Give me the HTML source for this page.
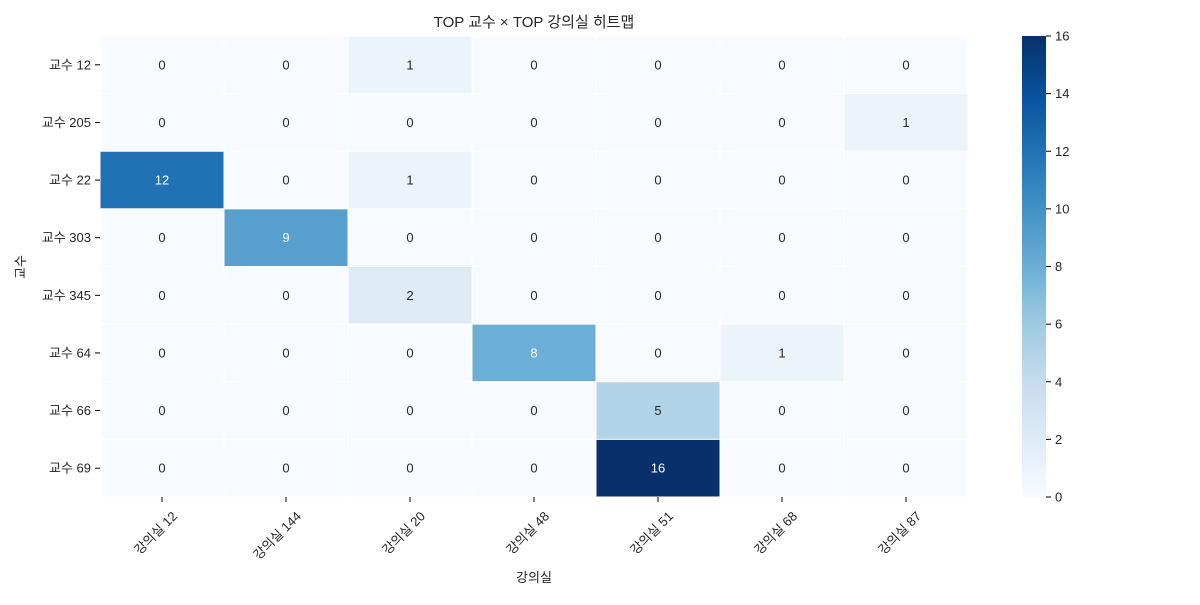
<!DOCTYPE html>
<html><head><meta charset="utf-8">
<style>
body{margin:0;background:#fff;}
svg text{font-family:"Liberation Sans","Noto Sans CJK KR",sans-serif;fill:#262626;}
</style></head>
<body>
<svg id="chart" width="1200" height="600" xmlns="http://www.w3.org/2000/svg">
<text x="534" y="27" font-size="15" text-anchor="middle" fill="#000">TOP 교수 × TOP 강의실 히트맵</text>
<g id="cells"></g>
<g id="xaxis"></g>
<g id="yaxis"></g>
<text x="534" y="582" font-size="13" text-anchor="middle">강의실</text>
<text transform="translate(25,267) rotate(-90)" font-size="13" text-anchor="middle">교수</text>
<defs><linearGradient id="cbg" x1="0" y1="1" x2="0" y2="0"></linearGradient></defs>
<rect x="1022" y="36" width="24" height="461" fill="url(#cbg)"/>
<g id="cbaxis"></g>
</svg>
<script>
const rowLabels=["교수 12","교수 205","교수 22","교수 303","교수 345","교수 64","교수 66","교수 69"];
const colLabels=["강의실 12","강의실 144","강의실 20","강의실 48","강의실 51","강의실 68","강의실 87"];
const values=[
[0,0,1,0,0,0,0],
[0,0,0,0,0,0,1],
[12,0,1,0,0,0,0],
[0,9,0,0,0,0,0],
[0,0,2,0,0,0,0],
[0,0,0,8,0,1,0],
[0,0,0,0,5,0,0],
[0,0,0,0,16,0,0]];
const cbTicks=[0,2,4,6,8,10,12,14,16];
const vmin=0,vmax=16;
const X0=100,X1=968,Y0=36,Y1=497;
const cw=(X1-X0)/colLabels.length, ch=(Y1-Y0)/rowLabels.length;
const xPos=i=>X0+i*cw, yPos=j=>Y0+j*ch;
const stops=["#f7fbff","#deebf7","#c6dbef","#9ecae1","#6baed6","#4292c6","#2171b5","#08519c","#08306b"];
function hex(h){return [1,3,5].map(i=>parseInt(h.substr(i,2),16));}
function color(v){let t=Math.max(0,Math.min(1,(v-vmin)/(vmax-vmin)))*(stops.length-1);let i=Math.min(Math.floor(t),stops.length-2),f=t-i;let a=hex(stops[i]),b=hex(stops[i+1]);return "rgb("+a.map((c,k)=>Math.round(c+(b[k]-c)*f)).join(",")+")";}
const NS="http://www.w3.org/2000/svg";
function mk(tag,attrs,parent){const e=document.createElementNS(NS,tag);for(const k in attrs)e.setAttribute(k,attrs[k]);parent.appendChild(e);return e;}
const cells=document.getElementById('cells');
values.forEach((row,j)=>row.forEach((v,i)=>{
 const r=mk('rect',{x:xPos(i),y:yPos(j),width:cw,height:ch,fill:color(v),stroke:"#fff","stroke-width":1},cells);
 
 
 const t=mk('text',{x:xPos(i)+cw/2,y:yPos(j)+ch/2+4.5,"font-size":13,"text-anchor":"middle"},cells);
 
 
 if(v>=8)t.setAttribute('style','fill:#fff');
 t.textContent=v;
}));
const xa=document.getElementById('xaxis');
colLabels.forEach((l,i)=>{
 const cx=xPos(i)+cw/2;
 mk('line',{x1:cx,y1:Y1,x2:cx,y2:Y1+5,stroke:"#000"},xa);
 const t=mk('text',{transform:`translate(${cx+16},${Y1+20}) rotate(-45)`,"font-size":13,"text-anchor":"end"},xa);
 
 
 t.textContent=l;
});
const ya=document.getElementById('yaxis');
rowLabels.forEach((l,j)=>{
 const cy=yPos(j)+ch/2;
 mk('line',{x1:X0-5,y1:cy,x2:X0,y2:cy,stroke:"#000"},ya);
 const t=mk('text',{x:X0-9,y:cy+4.5,"font-size":13,"text-anchor":"end"},ya);
 
 
 t.textContent=l;
});
const g=document.getElementById('cbg');
stops.forEach((s,k)=>mk('stop',{offset:k/(stops.length-1),"stop-color":s},g));
const cb=document.getElementById('cbaxis');
cbTicks.forEach(v=>{
 const y=Y1-(v-vmin)/(vmax-vmin)*(Y1-Y0);
 mk('line',{x1:1046,y1:y,x2:1051,y2:y,stroke:"#000"},cb);
 const t=mk('text',{x:1055,y:y+4.5,"font-size":13},cb);
 
 
 t.textContent=v;
});
</script>
</body></html>
